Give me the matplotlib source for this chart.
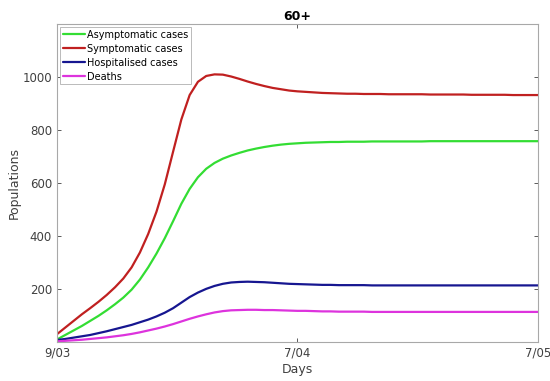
import numpy as np
import matplotlib
matplotlib.use("Agg")
import matplotlib.pyplot as plt

days = np.arange(59)

asymptomatic = [10, 27, 44, 61, 80, 99, 120, 143, 168, 198,
                236, 282, 334, 392, 456, 522, 578, 622, 654, 676,
                692, 704, 714, 723, 730, 736, 741, 745, 748, 750,
                752, 753, 754, 755, 755, 756, 756, 756, 757, 757,
                757, 757, 757, 757, 757, 758, 758, 758, 758, 758,
                758, 758, 758, 758, 758, 758, 758, 758, 758]
symptomatic = [30, 55, 80, 105, 128, 152, 178, 207, 240, 282,
               338, 408, 492, 595, 718, 840, 932, 982, 1004, 1010,
               1009, 1002, 993, 983, 974, 966, 959, 954, 949, 946,
               944, 942, 940, 939, 938, 937, 937, 936, 936, 936,
               935, 935, 935, 935, 935, 934, 934, 934, 934, 934,
               933, 933, 933, 933, 933, 932, 932, 932, 932]
hospitalised = [8, 12, 17, 22, 27, 34, 41, 49, 57, 65,
                75, 85, 97, 111, 128, 149, 170, 187, 201, 212,
                220, 225, 227, 228, 227, 226, 224, 222, 220, 219,
                218, 217, 216, 216, 215, 215, 215, 215, 214, 214,
                214, 214, 214, 214, 214, 214, 214, 214, 214, 214,
                214, 214, 214, 214, 214, 214, 214, 214, 214]
deaths = [3, 5, 7, 9, 12, 15, 18, 22, 26, 31,
          37, 44, 51, 59, 68, 78, 88, 97, 105, 112,
          117, 120, 121, 122, 122, 121, 121, 120, 119, 118,
          118, 117, 116, 116, 115, 115, 115, 115, 114, 114,
          114, 114, 114, 114, 114, 114, 114, 114, 114, 114,
          114, 114, 114, 114, 114, 114, 114, 114, 114]

tick_pos = [0, 29, 58]
tick_labels = ['9/03', '7/04', '7/05']

fig = plt.figure(figsize=(5.5, 3.81), dpi=100)
ax = fig.add_axes([0.1036, 0.102, 0.8744, 0.835])

style = dict(lw=1.6, solid_joinstyle='round', solid_capstyle='round')
ax.plot(days, asymptomatic, color='#33dd33', label='Asymptomatic cases', **style)
ax.plot(days, symptomatic, color='#c02020', label='Symptomatic cases', **style)
ax.plot(days, hospitalised, color='#161690', label='Hospitalised cases', **style)
ax.plot(days, deaths, color='#dd33dd', label='Deaths', **style)

ax.set_xlim(0, 58)
ax.set_ylim(0, 1200)
ax.set_yticks([200, 400, 600, 800, 1000])
ax.set_xticks(tick_pos)
ax.set_xticklabels(tick_labels)

for s in ax.spines.values():
    s.set_color('#a8a8a8')
    s.set_linewidth(0.8)
ax.tick_params(direction='in', length=3, width=0.6, color='#404040',
               labelcolor='#404040', labelsize=8.5, top=True, right=True)

ax.set_title('60+', fontsize=9, fontweight='bold', pad=3)
ax.set_xlabel('Days', fontsize=9, color='#404040', labelpad=2)
ax.set_ylabel('Populations', fontsize=9, color='#404040')
ax.yaxis.set_label_coords(-0.075, 0.5)

leg = ax.legend(loc='upper left', fontsize=7, handlelength=2.3,
                handletextpad=0.15, borderpad=0.3, labelspacing=0.4,
                borderaxespad=0.3, fancybox=False, framealpha=1)
leg.get_frame().set_edgecolor('#b0b0b0')
leg.get_frame().set_linewidth(0.6)

fig.savefig('out.png', dpi=100)
